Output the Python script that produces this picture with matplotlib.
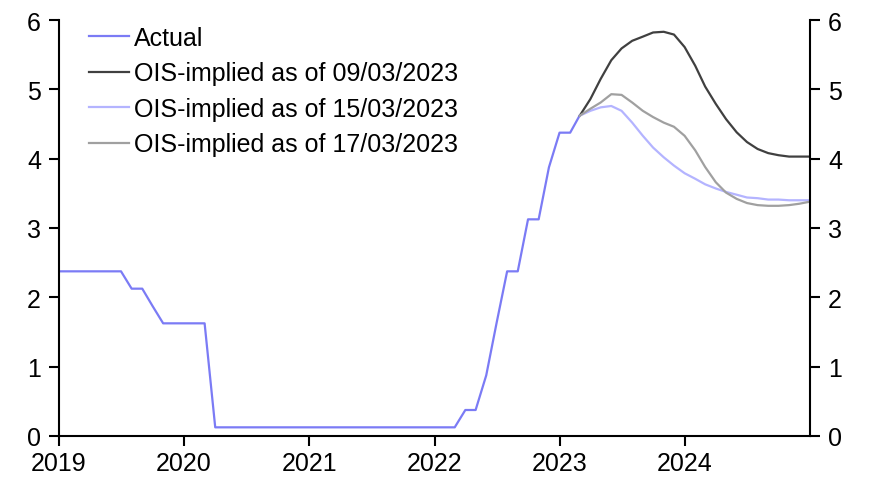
import matplotlib.pyplot as plt
import pandas as pd
import matplotlib.dates as mdates

plt.rcParams['font.family'] = ['Liberation Sans', 'DejaVu Sans']

# monthly fed funds (midpoint), Jan 2019 - Mar 2023
actual_dates = pd.date_range('2019-01-01', '2023-03-01', freq='MS')
actual = [2.375, 2.375, 2.375, 2.375, 2.375, 2.375, 2.375, 2.125, 2.125, 1.875, 1.625, 1.625,
          1.625, 1.625, 1.625, 0.125, 0.125, 0.125, 0.125, 0.125, 0.125, 0.125, 0.125, 0.125,
          0.125, 0.125, 0.125, 0.125, 0.125, 0.125, 0.125, 0.125, 0.125, 0.125, 0.125, 0.125,
          0.125, 0.125, 0.125, 0.375, 0.375, 0.875, 1.625, 2.375, 2.375, 3.125, 3.125, 3.875,
          4.375, 4.375, 4.625]

# OIS-implied paths, Mar 2023 - Jan 2025
ois_dates = pd.date_range('2023-03-01', '2025-01-01', freq='MS')
ois_0903 = [4.62, 4.86, 5.15, 5.42, 5.59, 5.70, 5.76, 5.82, 5.83, 5.79, 5.61, 5.34,
            5.04, 4.79, 4.57, 4.38, 4.24, 4.14, 4.08, 4.05, 4.03, 4.03, 4.03]
ois_1503 = [4.62, 4.69, 4.74, 4.76, 4.69, 4.52, 4.33, 4.16, 4.02, 3.90, 3.79, 3.71,
            3.63, 3.57, 3.52, 3.48, 3.44, 3.43, 3.41, 3.41, 3.40, 3.40, 3.40]
ois_1703 = [4.62, 4.72, 4.81, 4.93, 4.92, 4.81, 4.69, 4.60, 4.52, 4.46, 4.33, 4.12,
            3.88, 3.66, 3.51, 3.42, 3.36, 3.33, 3.32, 3.32, 3.33, 3.35, 3.38]

fig = plt.figure(figsize=(8.71, 4.81), dpi=100)
ax = fig.add_axes([59 / 871, 1 - 437 / 481, 751 / 871, 416 / 481])

ax.plot(actual_dates, actual, color='#7b7bf5', lw=1.6, label='Actual')
ax.plot(ois_dates, ois_0903, color='#404040', lw=1.6, label='OIS-implied as of 09/03/2023')
ax.plot(ois_dates, ois_1503, color='#b4b4ff', lw=1.6, label='OIS-implied as of 15/03/2023')
ax.plot(ois_dates, ois_1703, color='#a0a0a0', lw=1.6, label='OIS-implied as of 17/03/2023')

ax.set_xlim(pd.Timestamp('2019-01-01'), pd.Timestamp('2025-01-01'))
ax.set_ylim(0, 6)
ax.set_yticks(range(7))
years = [pd.Timestamp(f'{y}-01-01') for y in range(2019, 2025)]
ax.set_xticks(years)
ax.xaxis.set_major_formatter(mdates.DateFormatter('%Y'))

ax.spines['top'].set_visible(False)
for s in ['left', 'right', 'bottom']:
    ax.spines[s].set_linewidth(1.5)
ax.tick_params(axis='both', labelsize=18, length=7, width=1.5, direction='out')
ax.tick_params(axis='y', right=True, labelright=True, pad=6)
ax.tick_params(axis='x', pad=4)

ax.legend(loc='upper left', frameon=False, fontsize=18, handlelength=1.6,
          handletextpad=0.2, labelspacing=0.46, borderaxespad=0,
          bbox_to_anchor=(0.027, 1.01))

fig.savefig('out.png', dpi=100)
